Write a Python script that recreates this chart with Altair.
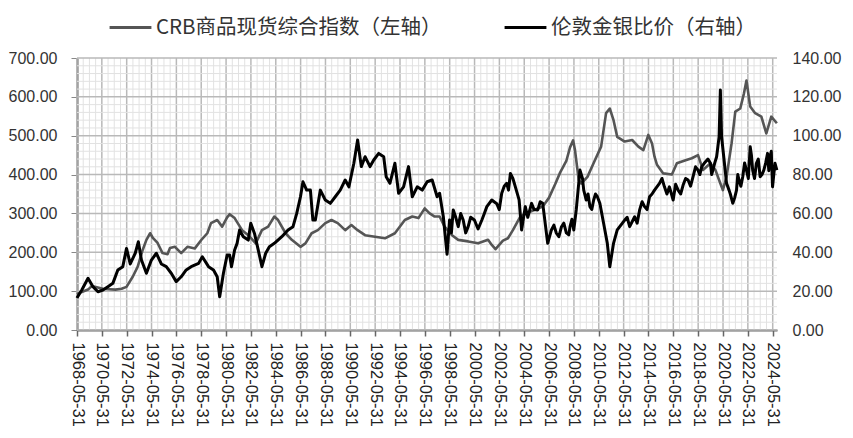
import altair as alt
import pandas as pd

# ---------------- data ----------------
SERIES = ["CRB商品现货综合指数（左轴）", "伦敦金银比价（右轴）"]

crb_t = [1968.41, 1968.8, 1969.3, 1969.6, 1970.0, 1970.5, 1971.0, 1971.5, 1972.0, 1972.4,
         1972.9, 1973.3, 1973.7, 1974.0, 1974.3, 1974.5, 1974.9, 1975.3, 1975.7, 1975.9,
         1976.3, 1976.8, 1977.3, 1977.9, 1978.4, 1978.9, 1979.2, 1979.7, 1980.1, 1980.5,
         1980.7, 1981.1, 1981.7, 1982.2, 1982.8, 1983.3, 1983.8, 1984.3, 1984.6, 1985.2,
         1985.7, 1986.4, 1986.8, 1987.3, 1987.8, 1988.4, 1988.9, 1989.4, 1990.0, 1990.5,
         1991.0, 1991.6, 1992.4, 1993.2, 1994.0, 1994.8, 1995.4, 1995.9, 1996.4, 1996.8,
         1997.2, 1997.6, 1998.0, 1998.6, 1999.1, 1999.9, 2000.7, 2001.5, 2001.8, 2002.1,
         2002.7, 2003.1, 2003.5, 2004.1, 2004.6, 2005.3, 2005.9, 2006.4, 2006.9, 2007.3,
         2007.8, 2008.1, 2008.35, 2008.5, 2008.8, 2009.0, 2009.5, 2010.1, 2010.6, 2011.0,
         2011.3, 2011.6, 2011.9, 2012.5, 2013.1, 2013.6, 2014.0, 2014.4, 2014.7, 2014.9,
         2015.1, 2015.6, 2016.3, 2016.7, 2017.4, 2017.9, 2018.4, 2018.8, 2019.4, 2019.8,
         2020.2, 2020.4, 2020.7, 2021.1, 2021.4, 2021.8, 2022.1, 2022.3, 2022.6, 2023.0,
         2023.5, 2023.9, 2024.3, 2024.75]
crb_v = [92, 98, 104, 113, 110, 106, 105, 104, 106, 111,
         137, 163, 206, 232, 249, 238, 224, 198, 195, 211,
         214, 198, 214, 210, 231, 249, 275, 283, 266, 290,
         298, 288, 257, 244, 223, 257, 266, 292, 283, 249,
         232, 214, 223, 249, 257, 275, 283, 275, 257, 270,
         257, 244, 240, 236, 249, 283, 292, 288, 313, 300,
         292, 292, 266, 244, 232, 228, 223, 232, 219, 208,
         230, 236, 257, 292, 300, 310, 318, 340, 375, 405,
         435, 470, 488, 463, 386, 377, 394, 437, 472, 558,
         570, 540, 497, 485, 489, 472, 463, 502, 480, 446,
         425, 403, 400, 429, 437, 442, 450, 412, 429, 412,
         377, 360, 394, 480, 562, 570, 609, 642, 575, 558,
         549, 506, 549, 532]

gsr_t = [1968.41, 1968.8, 1969.3, 1969.7, 1970.1, 1970.5, 1970.9, 1971.3, 1971.7, 1972.1,
         1972.4, 1972.7, 1973.1, 1973.35, 1973.6, 1974.0, 1974.4, 1974.8, 1975.2, 1975.6,
         1976.0, 1976.4, 1976.8, 1977.2, 1977.6, 1978.2, 1978.5, 1979.0, 1979.4, 1979.7,
         1979.9, 1980.2, 1980.5, 1980.7, 1980.85, 1981.1, 1981.3, 1981.5, 1981.8, 1982.2,
         1982.4, 1982.7, 1983.0, 1983.3, 1983.6, 1983.9, 1984.3, 1984.9, 1985.4, 1985.8,
         1986.1, 1986.4, 1986.6, 1986.9, 1987.2, 1987.4, 1987.6, 1988.0, 1988.4, 1988.8,
         1989.2, 1989.6, 1990.0, 1990.3, 1990.7, 1991.0, 1991.3, 1991.6, 1992.0, 1992.3,
         1992.7, 1993.1, 1993.3, 1993.6, 1994.0, 1994.3, 1994.7, 1995.1, 1995.4, 1995.8,
         1996.2, 1996.6, 1997.0, 1997.4, 1997.6, 1997.9, 1998.2, 1998.4, 1998.7, 1999.1,
         1999.5, 1999.9, 2000.4, 2001.0, 2001.4, 2001.8, 2002.2, 2002.6, 2003.0, 2003.3,
         2003.7, 2004.0, 2004.2, 2004.5, 2005.0, 2005.5, 2005.9, 2006.3, 2006.6, 2007.0,
         2007.4, 2007.8, 2008.1, 2008.4, 2008.6, 2008.9, 2009.2, 2009.4, 2009.7, 2010.0,
         2010.3, 2010.5, 2010.8, 2011.1, 2011.3, 2011.6, 2011.9, 2012.1, 2012.5, 2012.9,
         2013.3, 2013.7, 2014.1, 2014.5, 2014.9, 2015.3, 2015.7, 2016.1, 2016.4, 2016.8,
         2017.2, 2017.6, 2018.0, 2018.4, 2018.7, 2018.9, 2019.4, 2019.6, 2019.9, 2020.1,
         2020.2, 2020.3, 2020.5, 2020.7, 2020.9, 2021.2, 2021.5, 2021.7, 2022.0, 2022.3,
         2022.6, 2022.8, 2023.1, 2023.4, 2023.7, 2024.0, 2024.2, 2024.4, 2024.6, 2024.75]
gsr_v = [16.5, 20.6, 26.6, 22.3, 19.7, 20.6, 22.3, 24.0, 30.9, 32.6,
         42.0, 34.0, 39.5, 45.4, 36.0, 29.2, 36.0, 39.5, 34.0, 32.6,
         29.2, 24.9, 27.4, 30.9, 32.6, 34.3, 37.7, 32.6, 30.9, 27.4,
         17.1, 29.2, 38.6, 38.6, 32.6, 41.2, 44.6, 51.5, 48.0, 46.3,
         54.9, 49.7, 41.2, 32.6, 39.5, 42.9, 44.6, 48.0, 51.5, 53.2,
         60.0, 68.6, 76.3, 72.0, 72.0, 56.6, 56.6, 72.0, 66.9, 65.2,
         68.6, 72.0, 77.2, 73.7, 85.8, 97.8, 84.1, 89.2, 84.1, 87.5,
         90.9, 89.2, 78.9, 75.5, 85.8, 70.4, 73.7, 84.1, 68.6, 73.7,
         72.0, 76.3, 77.2, 68.6, 70.4, 58.3, 39.0, 56.6, 61.8, 53.2,
         56.6, 53.2, 56.6, 56.6, 63.5, 66.9, 65.0, 70.4, 75.5, 80.6,
         73.7, 67.0, 51.5, 63.5, 65.2, 61.8, 65.2, 44.6, 51.5, 49.8,
         53.0, 50.0, 53.2, 51.5, 61.8, 82.3, 72.0, 66.9, 63.5, 66.9,
         68.6, 65.2, 54.9, 44.6, 32.6, 44.6, 51.5, 53.2, 56.6, 53.2,
         58.3, 61.8, 63.5, 68.6, 72.0, 75.5, 73.7, 73.7, 66.9, 72.0,
         74.6, 77.2, 78.9, 82.3, 84.1, 85.8, 85.8, 82.3, 89.2, 99.5,
         123.5, 99.5, 87.5, 75.5, 72.0, 65.2, 72.0, 77.2, 78.9, 82.3,
         94.3, 82.3, 85.8, 78.9, 82.3, 90.9, 89.2, 73.7, 85.8, 82.3]

gsr_extra_t = [1998.55, 1998.9, 1999.3, 1999.7, 2000.1, 2000.7, 2001.2, 2002.4, 2002.8,
               2003.15, 2003.5, 2004.7, 2005.2, 2005.7, 2006.8, 2007.2, 2007.6, 2008.0,
               2008.25, 2009.1, 2009.55, 2009.85, 2010.15, 2012.7, 2013.5, 2013.9, 2014.3,
               2014.7, 2015.5, 2015.9, 2016.6, 2017.0, 2017.4, 2017.8, 2018.2, 2018.55,
               2019.2, 2019.5, 2019.75, 2021.0, 2021.35, 2021.6, 2021.85, 2022.15, 2022.45,
               2022.7, 2022.95, 2023.25, 2023.55, 2023.85, 2024.1, 2024.3, 2024.5]
gsr_extra_v = [50, 58, 60, 50, 58, 52, 60, 62, 74,
               72, 78, 58, 62, 66, 54, 48, 55, 49,
               57, 78, 70, 62, 70, 58, 55, 66, 62,
               70, 78, 70, 75, 70, 78, 74, 84, 80,
               88, 80, 86, 70, 68, 80, 74, 86, 78,
               90, 78, 88, 80, 86, 82, 92, 80]

X_TICK_YEARS = list(range(1968, 2025, 2))
LEFT_TICKS = list(range(0, 701, 100))
RIGHT_TICKS = list(range(0, 141, 20))
LEFT_MINOR = [v for v in range(0, 701, 20) if v % 100 != 0]


def to_date(y):
    yr = int(y)
    ts = pd.Timestamp(year=yr, month=1, day=1) + pd.Timedelta(days=(y - yr) * 365.25)
    return ts.strftime("%Y-%m-%d")


crb_df = pd.DataFrame({"t": crb_t, "value": crb_v})
crb_df["date"] = crb_df["t"].map(to_date)
crb_df["series"] = SERIES[0]

gsr_df = pd.concat([
    pd.DataFrame({"t": gsr_t, "value": gsr_v}),
    pd.DataFrame({"t": gsr_extra_t, "value": gsr_extra_v}),
]).sort_values("t").reset_index(drop=True)
gsr_df["date"] = gsr_df["t"].map(to_date)
gsr_df["series"] = SERIES[1]

major_x = [f"{y}-05-31" for y in X_TICK_YEARS]
minor_x = []
for y in range(1968, 2025):
    for md in ("05-31", "11-30"):
        d = f"{y}-{md}"
        if d not in major_x and "1968-11-30" <= d <= "2024-05-31":
            minor_x.append(d)

vmajor_df = pd.DataFrame({"date": major_x})
vminor_df = pd.DataFrame({"date": minor_x})
hmajor_df = pd.DataFrame({"value": LEFT_TICKS})
hminor_df = pd.DataFrame({"value": LEFT_MINOR})

# ---------------- encodings ----------------
FONT = "Liberation Sans"

x_enc = alt.X(
    "date:T",
    scale=alt.Scale(
        type="utc",
        domain=[alt.DateTime(year=1968, month=5, date=31, utc=True),
                alt.DateTime(year=2024, month=10, date=4, utc=True)],
    ),
    axis=alt.Axis(
        values=[alt.DateTime(year=y, month=5, date=31, utc=True) for y in X_TICK_YEARS],
        format="%Y-%m-%d", labelAngle=90, labelFont=FONT, labelFontSize=16.5,
        labelColor="#222222", labelOverlap=False, labelPadding=6,
        domainColor="#666666", domainWidth=2, tickColor="#666666", tickSize=6,
        tickWidth=1.5, grid=False, title=None,
    ),
)

y_left = alt.Y(
    "value:Q",
    scale=alt.Scale(domain=[0, 700], nice=False, zero=True),
    axis=alt.Axis(
        values=LEFT_TICKS, format=".2f", labelFont=FONT, labelFontSize=16,
        labelColor="#333333", labelPadding=14, domainColor="#666666", domainWidth=2,
        tickColor="#888888", tickSize=6, grid=False, title=None,
    ),
)

y_right = alt.Y(
    "value:Q",
    scale=alt.Scale(domain=[0, 140], nice=False, zero=True),
    axis=alt.Axis(
        orient="right", values=RIGHT_TICKS, format=".2f", labelFont=FONT,
        labelFontSize=16, labelColor="#333333", labelPadding=15, domain=False,
        ticks=False, grid=False, title=None,
    ),
)

color_enc = alt.Color(
    "series:N",
    scale=alt.Scale(domain=SERIES, range=["#555555", "#000000"]),
    legend=alt.Legend(
        orient="none", legendX=31, legendY=-53, direction="horizontal", title=None,
        symbolType="stroke", symbolSize=1750, symbolStrokeWidth=3,
        labelFont="Noto Sans CJK SC", labelFontSize=20.5, labelColor="#333333",
        labelLimit=600, labelOffset=3, columnPadding=56,
    ),
)

# ---------------- layers ----------------
vminor = alt.Chart(vminor_df).mark_rule(color="#e2e2e2", strokeWidth=1).encode(x=x_enc)
vmajor = alt.Chart(vmajor_df).mark_rule(color="#b9b9b9", strokeWidth=1.5).encode(x=x_enc)
hminor = alt.Chart(hminor_df).mark_rule(color="#e2e2e2", strokeWidth=1).encode(y=y_left)
hmajor = alt.Chart(hmajor_df).mark_rule(color="#b9b9b9", strokeWidth=1.5).encode(y=y_left)

crb_line = alt.Chart(crb_df).mark_line(strokeWidth=2.6, strokeJoin="round").encode(
    x=x_enc, y=y_left, color=color_enc, order="t:Q"
)
gsr_line = alt.Chart(gsr_df).mark_line(strokeWidth=3.0, strokeJoin="round").encode(
    x=x_enc, y=y_right, color=color_enc, order="t:Q"
)

left = alt.layer(vminor, vmajor, hminor, hmajor, crb_line)

chart = (
    alt.layer(left, gsr_line)
    .resolve_scale(y="independent")
    .properties(
        width=700,
        height=272,
        autosize=alt.AutoSizeParams(type="none"),
        padding={"left": 69, "top": 50, "right": 67, "bottom": 96},
        background="white",
    )
    .configure_view(stroke=None)
)

chart.save("out.html", embed_options={"renderer": "svg", "actions": False})
